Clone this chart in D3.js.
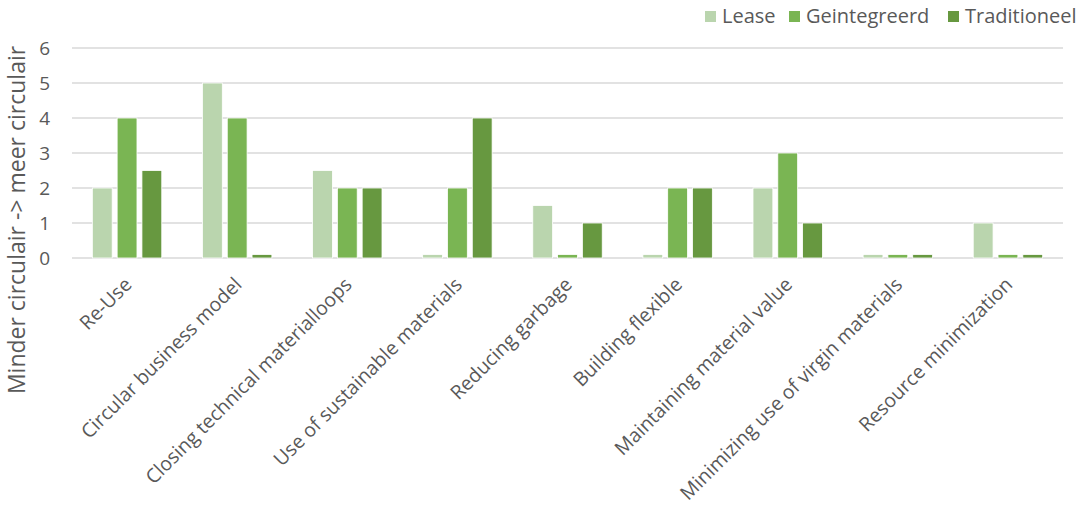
<!DOCTYPE html>
<html>
<head>
<meta charset="utf-8">
<script src="https://cdn.jsdelivr.net/npm/d3@7"></script>
<style>
  html, body { margin: 0; padding: 0; background: #fff; }
  svg { display: block; font-family: "Open Sans", Lato, sans-serif; }
</style>
</head>
<body>
<svg id="chart" width="1086" height="513"></svg>
<script>
// Categories and scores per approach
const categories = [
  "Re-Use",
  "Circular business model",
  "Closing technical materialloops",
  "Use of sustainable materials",
  "Reducing garbage",
  "Building flexible",
  "Maintaining material value",
  "Minimizing use of virgin materials",
  "Resource minimization"
];
const seriesNames = ["Lease", "Geintegreerd", "Traditioneel"];
const lease        = [2,   5,   2.5, 0.1, 1.5, 0.1, 2, 0.1, 1];
const geintegreerd = [4,   4,   2,   2,   0.1, 2,   3, 0.1, 0.1];
const traditioneel = [2.5, 0.1, 2,   4,   1,   2,   1, 0.1, 0.1];
const yTicks = [0, 1, 2, 3, 4, 5, 6];
const colors = ["#bad5ae", "#7ab553", "#679840"];
const yTitle = "Minder circulair -> meer circulair";

const seriesValues = [lease, geintegreerd, traditioneel];

const svg = d3.select("#chart");
const margin = { left: 72, right: 1063, top: 48, bottom: 258 };

const x = d3.scaleBand().domain(categories).range([margin.left, margin.right]).paddingInner(0).paddingOuter(0);
const xs = d3.scaleBand().domain(seriesNames).range([0, x.bandwidth()]).paddingInner(0.2).paddingOuter(0.82);
const y = d3.scaleLinear().domain([0, 6]).range([margin.bottom, margin.top]);

// Gridlines
svg.append("g")
  .selectAll("line")
  .data(yTicks)
  .join("line")
  .attr("x1", margin.left).attr("x2", margin.right)
  .attr("y1", d => y(d)).attr("y2", d => y(d))
  .attr("stroke", "#d9d9d9").attr("stroke-width", 1.5);

// Y axis labels
const yAxis = d3.axisLeft(y).tickValues(yTicks).tickSize(0).tickPadding(0).tickFormat(d3.format("d"));
svg.append("g")
  .attr("transform", `translate(${margin.left - 22},0)`)
  .call(yAxis)
  .call(g => g.select(".domain").remove())
  .call(g => g.selectAll("text")
    .attr("fill", "#595959").attr("font-size", 19).attr("font-family", "'Open Sans', sans-serif").attr("dy", "0.35em"));

// Bars
const groups = svg.append("g")
  .selectAll("g")
  .data(categories)
  .join("g")
  .attr("transform", d => `translate(${x(d)},0)`);

groups.selectAll("rect")
  .data((d, i) => seriesNames.map((s, j) => ({ s, j, v: seriesValues[j][i] })))
  .join("rect")
  .attr("x", d => xs(d.s))
  .attr("width", xs.bandwidth())
  .attr("y", d => y(d.v))
  .attr("height", d => y(0) - y(d.v))
  .attr("fill", d => colors[d.j])
  .attr("stroke", "#ffffff").attr("stroke-width", 0.8);

// Rotated category labels
svg.append("g")
  .selectAll("text")
  .data(categories)
  .join("text")
  .attr("transform", d => `translate(${x(d) + x.bandwidth() / 2 + 1},${margin.bottom + 23}) rotate(-45)`)
  .attr("text-anchor", "end")
  .attr("dy", "0.35em")
  .attr("fill", "#595959")
  .attr("font-size", 19.5)
  .text(d => d);

// Y axis title
svg.append("text")
  .attr("transform", `translate(17,220) rotate(-90)`)
  .attr("text-anchor", "middle")
  .attr("dy", "0.35em")
  .attr("fill", "#595959")
  .attr("font-size", 23)
  .text(yTitle);

// Legend
const legendItems = [
  { name: seriesNames[0], x: 705 },
  { name: seriesNames[1], x: 789 },
  { name: seriesNames[2], x: 948 }
];
const legend = svg.append("g");
legendItems.forEach((it, i) => {
  legend.append("rect")
    .attr("x", it.x).attr("y", 11).attr("width", 11).attr("height", 11)
    .attr("fill", colors[i]);
  legend.append("text")
    .attr("x", it.x + 17).attr("y", 16).attr("dy", "0.35em")
    .attr("fill", "#595959").attr("font-size", 20)
    .text(it.name);
});
</script>
</body>
</html>
